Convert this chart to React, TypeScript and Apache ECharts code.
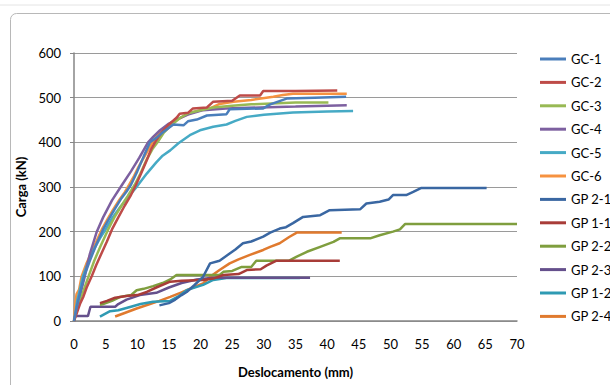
import React, { useEffect, useRef } from "react";
import * as echarts from "echarts";

const seriesNames = ["GC-1", "GC-2", "GC-3", "GC-4", "GC-5", "GC-6", "GP 2-1", "GP 1-1", "GP 2-2", "GP 2-3", "GP 1-2", "GP 2-4"];
const seriesColors = ["#4A7EBB", "#BE4B48", "#98B954", "#7D60A0", "#46AAC5", "#F69240", "#3A67A2", "#A83C38", "#7F9E3E", "#65508C", "#2F9AB3", "#E07A2E"];

const xTicks = [0, 5, 10, 15, 20, 25, 30, 35, 40, 45, 50, 55, 60, 65, 70];
const yTicks = [0, 100, 200, 300, 400, 500, 600];

const gc1 = [[0, 0], [0.5, 35], [1, 65], [1.6, 100], [2.5, 135], [3.5, 170], [4.6, 205], [5.5, 228], [6.5, 252], [7.5, 275], [8.3, 290], [9.0, 305], [10, 335], [11, 368], [12, 400], [13, 410], [14, 422], [15.7, 440], [17.3, 438], [18, 447], [19.4, 451], [21, 460], [24.1, 463], [24.6, 474], [29.9, 476], [31, 485], [33.6, 498], [38, 500], [43, 502]];
const gc2 = [[0, 0], [0.5, 20], [1, 40], [1.5, 55], [2, 75], [2.8, 100], [3.5, 125], [4.3, 150], [5.2, 178], [6, 205], [7, 232], [8, 258], [9, 282], [9.8, 305], [10.6, 330], [11.5, 360], [12.2, 385], [12.8, 400], [13.5, 415], [14.2, 428], [15, 440], [16.2, 455], [16.7, 464], [18, 466], [18.8, 476], [21, 478], [22, 491], [25, 493], [26.2, 505], [29.4, 505], [29.9, 515], [35, 515], [41.6, 516]];
const gc3 = [[0, 0], [0.5, 25], [1, 48], [1.6, 72], [2.3, 100], [3.2, 135], [4.2, 168], [5.4, 205], [6.5, 235], [7.5, 258], [8.5, 280], [9.6, 305], [10.5, 330], [11.5, 362], [12.4, 385], [13.2, 400], [14.2, 422], [15.5, 440], [16.8, 455], [18, 465], [20, 472], [22, 478], [25, 482], [28, 485], [35, 489], [40.2, 489]];
const gc4 = [[0, 0], [0.5, 30], [1, 60], [1.7, 100], [2.5, 150], [3.6, 200], [4.6, 232], [6, 270], [7.6, 305], [9, 335], [10.3, 365], [11.7, 400], [12.5, 412], [13.6, 427], [15, 442], [16.2, 451], [18, 462], [20.4, 472], [24, 476], [29.4, 478], [35, 480], [40, 482], [43.1, 483]];
const gc5 = [[0, 0], [0.5, 45], [1, 75], [1.4, 100], [2.3, 135], [3.2, 162], [4.1, 185], [5.0, 205], [6.1, 232], [7.3, 255], [8.6, 278], [10, 302], [11.5, 330], [13, 355], [14, 370], [15.2, 382], [16.5, 398], [18.3, 416], [19.9, 427], [22, 435], [24.1, 440], [25.5, 448], [27.3, 457], [30, 462], [34.6, 467], [40, 469], [44.1, 470]];
const gc6 = [[0, 0], [0.2, 40], [0.4, 60], [0.8, 70], [1.2, 100], [2, 130], [2.8, 155], [3.6, 180], [4.4, 205], [5.3, 228], [6.2, 250], [7.2, 272], [8, 288], [8.7, 305], [9.5, 325], [10.2, 345], [10.8, 360], [11.6, 380], [12.4, 400], [13.3, 418], [14.5, 432], [15.3, 440], [16.2, 450], [17.5, 460], [18.8, 468], [21.5, 476], [23, 486], [25.2, 491], [28, 495], [31.5, 502], [33, 506], [34.6, 509], [43.1, 509]];
const gp21 = [[13.5, 35], [15, 40], [16, 48], [17, 58], [17.8, 65], [19, 80], [20.4, 99], [21.5, 129], [23, 135], [24.6, 151], [25.5, 160], [26.7, 174], [28, 178], [29.9, 189], [31, 198], [32.5, 207], [33.5, 210], [34.6, 219], [36.2, 233], [38.9, 237], [40.4, 248], [45.2, 250], [46.2, 263], [48.3, 267], [49.7, 272], [50.4, 282], [52.5, 282], [53.6, 289], [54.9, 298], [65.2, 298]];
const gp11 = [[4.1, 40], [5.2, 45], [6.5, 52], [8.3, 56], [10, 58], [11.5, 65], [13, 75], [15.2, 88], [17, 90], [20.4, 92], [22, 95], [23.6, 103], [26, 105], [27.3, 114], [29.5, 116], [30.4, 124], [32, 135], [42, 135]];
const gp22 = [[4.1, 36], [4.6, 38], [6, 45], [7.3, 54], [9, 58], [9.9, 69], [11, 72], [12.5, 78], [14, 85], [15.2, 93], [16.2, 103], [23, 103], [23.6, 110], [25, 112], [26.5, 121], [28, 121], [28.8, 135], [34, 135], [35.2, 144], [36.8, 155], [38.9, 166], [41, 177], [42, 185], [46.8, 185], [48.3, 192], [50.4, 200], [51.5, 205], [52.3, 217], [70, 217]];
const gp23 = [[0, 11], [2.2, 11], [2.6, 32], [6.5, 32], [7, 38], [8.3, 48], [10.4, 58], [13, 63], [15, 75], [17, 85], [19.4, 93], [22, 97], [37.3, 97]];
const gp12 = [[4.1, 10], [5.7, 22], [7, 24], [9, 32], [10.5, 38], [12.5, 43], [15.2, 45], [16.5, 55], [17.8, 69], [20.4, 81], [22, 92], [24.1, 96], [35.7, 96]];
const gp24 = [[6.5, 10], [8, 18], [9.9, 28], [12, 38], [13.5, 45], [15.2, 54], [17, 64], [18.8, 75], [20.4, 84], [21.5, 99], [23, 114], [24.6, 129], [26, 138], [27.8, 148], [29.9, 159], [31, 166], [32.5, 174], [34, 188], [35.2, 198], [42.3, 198]];

const seriesData = [gc1, gc2, gc3, gc4, gc5, gc6, gp21, gp11, gp22, gp23, gp12, gp24];

const FONT = "Lato, 'Open Sans', sans-serif";

export default function App() {
  const ref = useRef<HTMLDivElement>(null);
  useEffect(() => {
    if (!ref.current) return;
    const chart = echarts.init(ref.current, null, { renderer: "svg" });
    chart.setOption({
      animation: false,
      backgroundColor: "#ffffff",
      graphic: [
        { type: "line", shape: { x1: 0, y1: 5, x2: 610, y2: 5 }, style: { stroke: "#e4e4e4", lineWidth: 1 } },
        { type: "rect", shape: { x: 10.5, y: 13.5, width: 640, height: 420, r: 6 }, style: { fill: "none", stroke: "#b8b8b8", lineWidth: 1 } },
      ],
      grid: { left: 74, right: 93, top: 53, bottom: 64 },
      legend: {
        orient: "vertical",
        left: 540,
        top: 52,
        padding: 0,
        itemWidth: 26,
        itemHeight: 3,
        itemGap: 9.4,
        icon: "rect",
        data: seriesNames,
        textStyle: { fontFamily: FONT, fontSize: 13, color: "#000", lineHeight: 14 },
      },
      xAxis: {
        type: "value",
        min: xTicks[0],
        max: xTicks[xTicks.length - 1],
        interval: 5,
        name: "Deslocamento (mm)",
        nameLocation: "middle",
        nameGap: 44,
        nameTextStyle: { fontFamily: FONT, fontSize: 13, fontWeight: "bold", color: "#000" },
        axisLine: { show: true, lineStyle: { color: "#868686", width: 1.5 } },
        axisTick: { show: false },
        splitLine: { show: false },
        axisLabel: { fontFamily: FONT, fontSize: 13, color: "#000", margin: 16 },
      },
      yAxis: {
        type: "value",
        min: yTicks[0],
        max: yTicks[yTicks.length - 1],
        interval: 100,
        name: "Carga (kN)",
        nameLocation: "middle",
        nameGap: 44,
        nameRotate: 90,
        nameTextStyle: { fontFamily: FONT, fontSize: 13, fontWeight: "bold", color: "#000" },
        axisLine: { show: true, lineStyle: { color: "#868686", width: 1.5 } },
        axisTick: { show: true, length: 4, lineStyle: { color: "#868686" } },
        splitLine: { show: true, lineStyle: { color: "#9a9a9a", width: 1 } },
        axisLabel: { fontFamily: FONT, fontSize: 13, color: "#000", margin: 13 },
      },
      series: seriesNames.map((name, i) => ({
        name,
        type: "line",
        data: seriesData[i],
        symbol: "none",
        color: seriesColors[i],
        lineStyle: { width: 2.5, color: seriesColors[i] },
        z: 10 - (i % 6),
      })),
    });
    return () => chart.dispose();
  }, []);
  return <div ref={ref} style={{ width: 610, height: 385, position: "absolute", left: 0, top: 0 }} />;
}
